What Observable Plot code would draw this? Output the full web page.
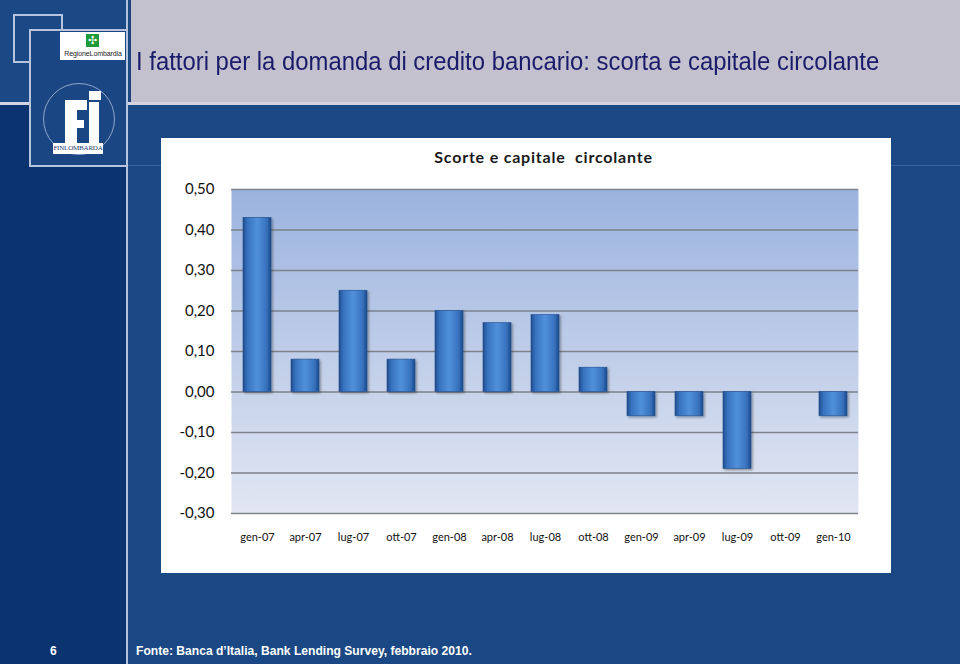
<!DOCTYPE html>
<html>
<head>
<meta charset="utf-8">
<script src="https://cdn.jsdelivr.net/npm/d3@7"></script>
<script src="https://cdn.jsdelivr.net/npm/@observablehq/plot@0.6"></script>
<style>
  html, body { margin: 0; padding: 0; }
  body { width: 960px; height: 664px; position: relative; overflow: hidden; background: #1a4884; font-family: "Liberation Sans", Arial, sans-serif; }
  .abs { position: absolute; }
</style>
</head>
<body>
<!-- slide decoration -->
<div class="abs" style="left:0;top:0;width:130px;height:102px;background:#1b4985;"></div>
<div class="abs" style="left:0;top:102px;width:126px;height:562px;background:#0a336f;"></div>
<div class="abs" style="left:130px;top:0;width:830px;height:102px;background:#c2c1cd;border-left:1px solid #23407a;"></div>
<div class="abs" style="left:0;top:102px;width:960px;height:3px;background:#d3d3e2;"></div>
<div class="abs" style="left:126px;top:0;width:2px;height:664px;background:#b4c2dd;"></div>
<div class="abs" style="left:128px;top:165px;width:832px;height:1px;background:#3a64a0;"></div>
<div class="abs" style="left:13px;top:14px;width:46px;height:45px;border:2px solid #b7c4de;"></div>
<div class="abs" style="left:29px;top:29px;width:95px;height:134px;border:2px solid #b7c4de;background:#1a4783;"></div>
<!-- Regione Lombardia logo -->
<div class="abs" style="left:60px;top:32px;width:65px;height:28px;background:#fff;"></div>
<div class="abs" style="left:86px;top:34px;width:13px;height:13px;background:#1f9a3a;color:#fff;font:bold 11px 'DejaVu Sans';text-align:center;line-height:13px;">✣</div>
<div class="abs" style="left:61px;top:50px;width:64px;font:7px 'Liberation Sans';color:#222;text-align:center;letter-spacing:-0.1px;">RegioneLombardia</div>
<!-- Finlombarda logo -->
<div class="abs" style="left:43px;top:83px;width:70px;height:70px;border:1px solid #8ea6cf;border-radius:50%;"></div>
<div class="abs" style="left:65px;top:100px;width:12px;height:43px;background:#fff;"></div>
<div class="abs" style="left:65px;top:100px;width:22px;height:10px;background:#fff;"></div>
<div class="abs" style="left:65px;top:120px;width:19px;height:8px;background:#fff;"></div>
<div class="abs" style="left:89px;top:91px;width:12px;height:9px;background:#fff;"></div>
<div class="abs" style="left:89px;top:102px;width:10px;height:41px;background:#fff;"></div>
<div class="abs" style="left:53px;top:143px;width:50px;height:11px;background:#fff;overflow:hidden;"></div>
<div class="abs" style="left:53px;top:143px;width:50px;height:11px;color:#1a3a70;font:7px 'Liberation Serif';text-align:center;line-height:11px;letter-spacing:-0.2px;white-space:nowrap;">FINLOMBARDA</div>
<!-- Slide title -->
<div class="abs" style="left:136px;top:49px;white-space:nowrap;font-family:'Liberation Sans',Arial,sans-serif;font-size:25px;line-height:1;color:#1b1b6b;transform:scaleX(0.955);transform-origin:0 0;">I fattori per la domanda di credito bancario: scorta e capitale circolante</div>
<!-- footer -->
<div class="abs" style="left:50px;top:645px;font:bold 12px 'Liberation Sans',Arial,sans-serif;line-height:1;color:#fff;">6</div>
<div class="abs" style="left:136px;top:645px;white-space:nowrap;font:bold 12.1px 'Liberation Sans',Arial,sans-serif;line-height:1;color:#fff;">Fonte: Banca d’Italia, Bank Lending Survey, febbraio 2010.</div>
<!-- chart box -->
<div id="box" class="abs" style="left:161px;top:138px;width:730px;height:435px;background:#fff;">
  <div class="abs" style="left:0;top:9px;width:765px;text-align:center;font:bold 16px Lato,sans-serif;letter-spacing:0.8px;color:#1a1a1a;white-space:pre;">Scorte e capitale  circolante</div>
  <div id="chart" class="abs" style="left:0;top:40px;"></div>
</div>
<script>
const months = ["gen-07","apr-07","lug-07","ott-07","gen-08","apr-08","lug-08","ott-08","gen-09","apr-09","lug-09","ott-09","gen-10"];
const values = [0.43, 0.08, 0.25, 0.08, 0.20, 0.17, 0.19, 0.06, -0.06, -0.06, -0.19, 0, -0.06];
const yTicks = [-0.3, -0.2, -0.1, 0, 0.1, 0.2, 0.3, 0.4, 0.5];

const data = months.map((m, i) => ({month: m, value: values[i]}));
const fmt = d => d.toFixed(2).replace(".", ",");

const chart = Plot.plot({
  width: 730,
  height: 395,
  marginTop: 11,
  marginBottom: 60,
  marginLeft: 70,
  marginRight: 33,
  style: {background: "transparent", fontFamily: "Lato, sans-serif", color: "#111", overflow: "visible"},
  x: {domain: months, paddingInner: 0.42, paddingOuter: 0.21, label: null},
  y: {domain: [-0.3, 0.5], label: null},
  marks: [
    Plot.frame({fill: "url(#bgGrad)", stroke: "none"}),
    Plot.gridY(yTicks, {stroke: "#7d828b", strokeOpacity: 1, strokeWidth: 1.3}),
    Plot.barY(data, {x: "month", y: "value", fill: "url(#barGrad)", stroke: "#21508f", strokeWidth: 0.6}),
    Plot.axisY(yTicks, {tickSize: 0, tickPadding: 17, tickFormat: fmt, fontSize: 15, label: null}),
    Plot.axisX({tickSize: 0, tickPadding: 20, fontSize: 11, label: null})
  ]
});

const svg = d3.select(chart);
const defs = svg.insert("defs", ":first-child");
const bg = defs.append("linearGradient").attr("id", "bgGrad").attr("x1", 0).attr("y1", 0).attr("x2", 0).attr("y2", 1);
bg.append("stop").attr("offset", 0).attr("stop-color", "#9bb3df");
bg.append("stop").attr("offset", 0.6).attr("stop-color", "#c6d2ea");
bg.append("stop").attr("offset", 1).attr("stop-color", "#e1e6f2");
const bar = defs.append("linearGradient").attr("id", "barGrad").attr("x1", 0).attr("y1", 0).attr("x2", 1).attr("y2", 0);
[[0, "#1f4c8c"], [0.15, "#3671bd"], [0.5, "#5290da"], [0.85, "#3671bd"], [1, "#1c4884"]]
  .forEach(([o, c]) => bar.append("stop").attr("offset", o).attr("stop-color", c));
const f = defs.append("filter").attr("id", "shadow").attr("x", "-20%").attr("y", "-20%").attr("width", "150%").attr("height", "150%");
f.append("feDropShadow").attr("dx", 1.5).attr("dy", 1.5).attr("stdDeviation", 1.2).attr("flood-color", "#000").attr("flood-opacity", 0.35);
svg.selectAll("rect").filter(function() { return this.getAttribute("fill") === "url(#barGrad)" || (this.parentNode && this.parentNode.getAttribute("fill") === "url(#barGrad)"); })
  .attr("filter", "url(#shadow)");

document.getElementById("chart").appendChild(chart);
</script>
</body>
</html>
